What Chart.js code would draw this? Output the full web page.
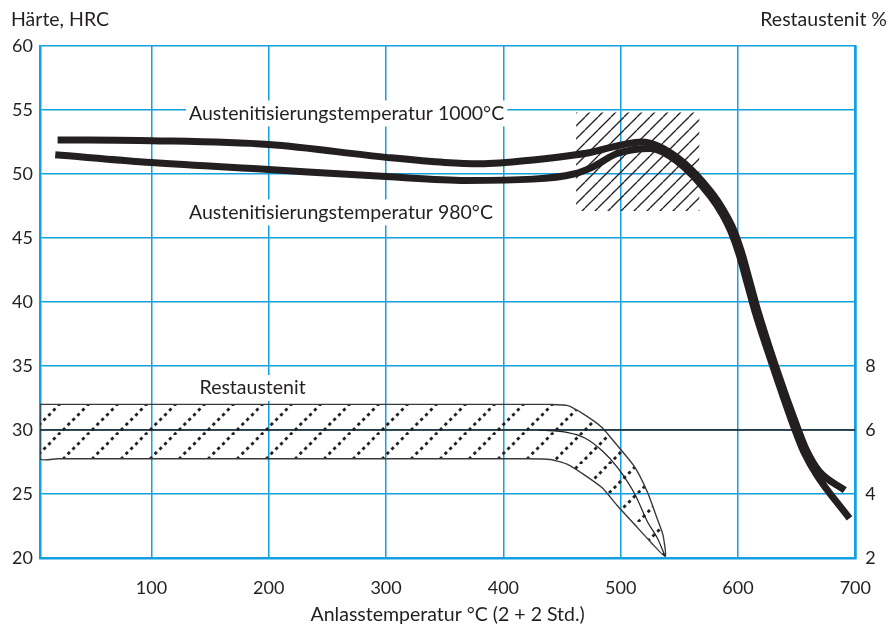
<!DOCTYPE html>
<html>
<head>
<meta charset="utf-8">
<script src="https://cdn.jsdelivr.net/npm/chart.js@4.4.0/dist/chart.umd.min.js"></script>
<style>
  body { margin: 0; background: #fff; }
  #wrap { width: 890px; height: 639px; }
</style>
</head>
<body>
<div id="wrap"><canvas id="chart" width="890" height="639"></canvas></div>
<script>
// Härte curves (Anlasstemperatur °C -> HRC)
const temps1000 = [20, 100, 200, 300, 350, 380, 425, 475, 497, 518, 548, 577, 588, 596, 603, 610, 616, 632, 651, 658, 669, 691];
const hrc1000   = [52.66, 52.6, 52.3, 51.3, 50.9, 50.8, 51.1, 51.7, 52.2, 52.5, 51.3, 48.6, 47.1, 45.7, 43.9, 41.6, 39.6, 35.0, 30.1, 28.5, 26.8, 25.3];
const temps980  = [18, 100, 200, 300, 368, 425, 460, 475, 497, 525, 548, 577, 587, 594, 601, 608, 614, 630, 649, 656, 667, 695];
const hrc980    = [51.5, 50.9, 50.35, 49.8, 49.5, 49.6, 50.0, 50.5, 51.6, 52.0, 51.0, 48.2, 46.8, 45.5, 43.7, 41.4, 39.4, 34.9, 29.9, 28.3, 26.5, 23.1];

// Restaustenit band (°C -> %), outline goes along the top edge and back along the bottom
const bandTemps = [5, 20, 420, 440, 455, 469, 484, 497, 512, 523, 531, 536, 538, 526, 512, 497, 484, 469, 455, 440, 420, 20, 5, 5];
const bandPct   = [6.8, 6.8, 6.8, 6.8, 6.76, 6.48, 6.08, 5.52, 4.84, 4.04, 3.24, 2.72, 2.05, 2.48, 3.04, 3.64, 4.2, 4.6, 4.92, 5.08, 5.1, 5.1, 5.1, 6.8];
const midTemps  = [430, 455, 469, 484, 497, 512, 523, 531, 538];
const midPct    = [6, 5.92, 5.76, 5.36, 4.84, 4.0, 3.12, 2.64, 2.05];
const refLineTemps = [5, 700];
const refLinePct   = [6, 6];

// hatched area around the peak (°C, HRC)
const boxTemps = [462, 567, 567, 462, 462];
const boxHrc   = [54.8, 54.8, 47.1, 47.1, 54.8];

const xTicks = [100, 200, 300, 400, 500, 600, 700];
const labelTexts = ['Austenitisierungstemperatur 1000°C', 'Austenitisierungstemperatur 980°C', 'Restaustenit'];

const BLUE = '#12a0e0';
const INK = '#231f20';
const FONT = 'Lato';
const TEXT_SIZE = 19.5;

function pts(xs, ys) {
  return xs.map((x, i) => ({ x: x, y: ys[i] }));
}

function makeHatch(size, lineWidth, dash) {
  const c = document.createElement('canvas');
  c.width = size; c.height = size;
  const g = c.getContext('2d');
  g.strokeStyle = INK;
  g.lineWidth = lineWidth;
  if (dash) g.setLineDash(dash);
  [-size, 0, size].forEach(off => {
    g.beginPath();
    g.moveTo(off, size);
    g.lineTo(off + size, 0);
    g.stroke();
  });
  return g.createPattern(c, 'repeat');
}

const boxHatch = makeHatch(13, 1.3);
const bandHatch = makeHatch(29, 2.8, [3.2, 3.63]);

// text labels inside the plot, white boxes cut the grid
const labelPlugin = {
  id: 'plotLabels',
  beforeDatasetsDraw(chart) {
    const { ctx, scales } = chart;
    const items = [
      { text: labelTexts[0], x: scales.x.getPixelForValue(132), y: scales.y.getPixelForValue(54.73) },
      { text: labelTexts[1], x: scales.x.getPixelForValue(132), y: scales.y.getPixelForValue(47.0) },
      { text: labelTexts[2], x: scales.x.getPixelForValue(141), y: scales.y.getPixelForValue(33.28) }
    ];
    ctx.save();
    ctx.font = TEXT_SIZE + 'px ' + FONT;
    ctx.textBaseline = 'middle';
    items.forEach(it => {
      const w = ctx.measureText(it.text).width;
      ctx.fillStyle = '#fff';
      ctx.fillRect(it.x - 3, it.y - 13, w + 6, 26);
      ctx.fillStyle = INK;
      ctx.fillText(it.text, it.x, it.y);
    });
    ctx.restore();
  },
  afterDraw(chart) {
    const ctx = chart.ctx;
    ctx.save();
    ctx.font = TEXT_SIZE + 'px ' + FONT;
    ctx.fillStyle = INK;
    ctx.textBaseline = 'middle';
    ctx.textAlign = 'left';
    ctx.fillText('Härte, HRC', 11, 20);
    ctx.textAlign = 'right';
    ctx.fillText('Restaustenit %', 887, 20);
    ctx.restore();
  }
};

new Chart(document.getElementById('chart'), {
  type: 'line',
  data: {
    datasets: [
      {
        label: '1000',
        data: pts(temps1000, hrc1000),
        borderColor: INK,
        borderWidth: 7,
        cubicInterpolationMode: 'monotone',
        pointRadius: 0,
        fill: false
      },
      {
        label: '980',
        data: pts(temps980, hrc980),
        borderColor: INK,
        borderWidth: 7,
        cubicInterpolationMode: 'monotone',
        pointRadius: 0,
        fill: false
      },
      {
        label: 'mid',
        data: pts(midTemps, midPct),
        yAxisID: 'y1',
        borderColor: INK,
        borderWidth: 1.2,
        cubicInterpolationMode: 'monotone',
        pointRadius: 0,
        fill: false
      },
      {
        label: 'ref',
        data: pts(refLineTemps, refLinePct),
        yAxisID: 'y1',
        borderColor: INK,
        borderWidth: 1.5,
        pointRadius: 0,
        fill: false
      },
      {
        label: 'band',
        data: pts(bandTemps, bandPct),
        yAxisID: 'y1',
        borderColor: '#3a3a3a',
        borderWidth: 1.4,
        backgroundColor: bandHatch,
        tension: 0.2,
        pointRadius: 0,
        fill: 'shape'
      },
      {
        label: 'box',
        data: pts(boxTemps, boxHrc),
        borderWidth: 0,
        borderColor: 'rgba(0,0,0,0)',
        backgroundColor: boxHatch,
        pointRadius: 0,
        fill: 'shape'
      }
    ]
  },
  options: {
    responsive: false,
    animation: false,
    layout: { padding: { top: 46, left: 0, right: 0, bottom: 0 } },
    plugins: {
      legend: { display: false },
      tooltip: { enabled: false }
    },
    scales: {
      x: {
        type: 'linear',
        min: 5,
        max: 700,
        afterBuildTicks: (scale) => { scale.ticks = xTicks.map(v => ({ value: v })); },
        afterFit: (scale) => { scale.height = 81; },
        grid: { color: BLUE, lineWidth: 1.5, drawTicks: false },
        border: { color: BLUE, width: 2.5 },
        ticks: { color: INK, font: { family: FONT, size: 18 }, padding: 19, maxRotation: 0 },
        title: {
          display: true,
          text: 'Anlasstemperatur °C (2 + 2 Std.)',
          color: INK,
          font: { family: FONT, size: TEXT_SIZE },
          padding: { top: 0, bottom: 13 }
        }
      },
      y: {
        min: 20,
        max: 60,
        afterFit: (scale) => { scale.width = 40; },
        grid: { color: BLUE, lineWidth: 1.5, drawTicks: false },
        border: { color: BLUE, width: 2.5 },
        ticks: { stepSize: 5, color: INK, font: { family: FONT, size: 18 }, padding: 7 }
      },
      y1: {
        position: 'right',
        min: 2,
        max: 18,
        afterFit: (scale) => { scale.width = 34; },
        grid: { display: false, drawTicks: false },
        border: { color: BLUE, width: 2.5 },
        ticks: {
          stepSize: 2,
          color: INK,
          font: { family: FONT, size: 18 },
          padding: 10,
          callback: (v) => (v <= 8 ? v : '')
        }
      }
    }
  },
  plugins: [labelPlugin]
});
</script>
</body>
</html>
